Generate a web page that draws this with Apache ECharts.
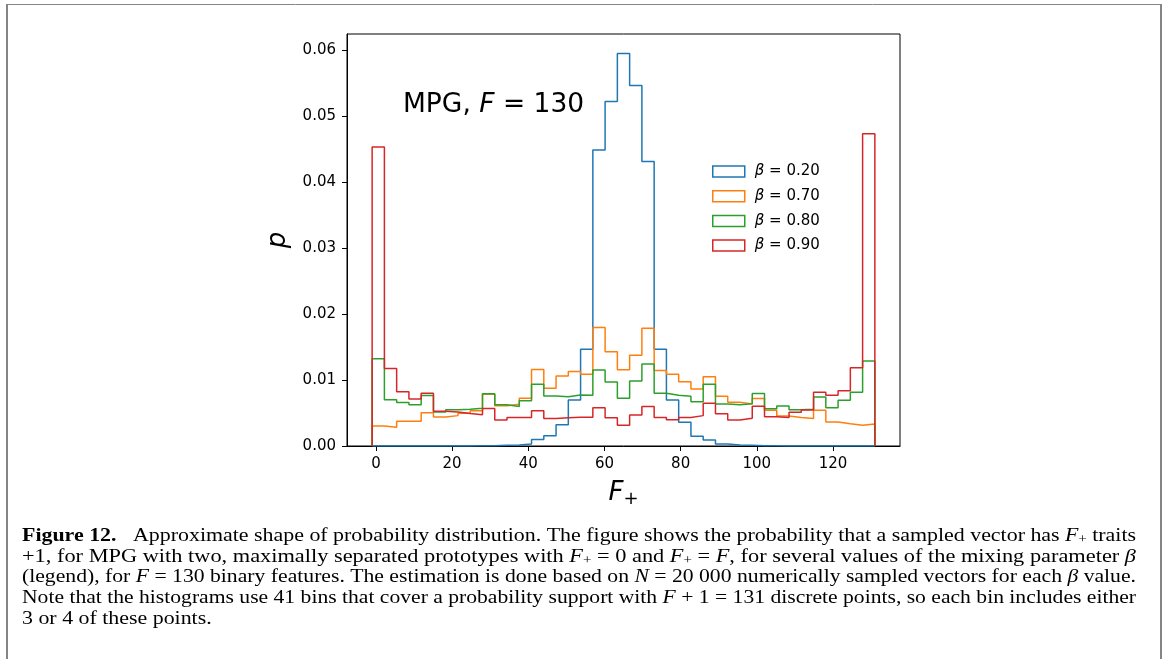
<!DOCTYPE html>
<html>
<head>
<meta charset="utf-8">
<script src="https://cdn.jsdelivr.net/npm/echarts@6/dist/echarts.min.js"></script>
<style>
  html, body { margin: 0; padding: 0; background: #fff; }
  #chart { width: 1166px; height: 659px; }
</style>
</head>
<body>
<div id="chart"></div>
<script>
// ---- data ----
const xTicks = [0, 20, 40, 60, 80, 100, 120];
const yTicks = [0, 0.01, 0.02, 0.03, 0.04, 0.05, 0.06];
const binRange = [-1, 131];
const nBins = 41;
const betaLabels = ['0.20', '0.70', '0.80', '0.90'];

const pBeta020 = [0, 0, 0, 0, 0, 0, 0, 0, 0.00003, 0.00005,
  0.0001, 0.00015, 0.0003, 0.001, 0.00157, 0.00323, 0.00697, 0.01465, 0.04485, 0.05217,
  0.05944, 0.0546, 0.04308, 0.01465, 0.00697, 0.0036, 0.00146, 0.0009, 0.0003, 0.00015,
  0.0001, 0.00005, 0.00002, 0, 0, 0, 0, 0, 0, 0,
  0];
const pBeta070 = [0.00303, 0.00283, 0.00374, 0.00374, 0.00503, 0.00439, 0.0046, 0.00495, 0.00535, 0.00785,
  0.00608, 0.00633, 0.00725, 0.0116, 0.00874, 0.0106, 0.01128, 0.01088, 0.01795, 0.01429,
  0.01155, 0.01374, 0.01783, 0.01144, 0.01088, 0.00975, 0.00864, 0.0105, 0.00755, 0.00664,
  0.00638, 0.0072, 0.0054, 0.00455, 0.00432, 0.00417, 0.0054, 0.00364, 0.00336, 0.00316,
  0.00333];
const pBeta080 = [0.0132, 0.00702, 0.00657, 0.00623, 0.00763, 0.00515, 0.00548, 0.00558, 0.00573, 0.00793,
  0.00626, 0.006, 0.00684, 0.00934, 0.00758, 0.00745, 0.00773, 0.0077, 0.01152, 0.0097,
  0.00725, 0.00985, 0.01242, 0.00798, 0.00768, 0.00753, 0.00672, 0.00934, 0.00636, 0.00626,
  0.00641, 0.00795, 0.00566, 0.00606, 0.0055, 0.00556, 0.00742, 0.00581, 0.00692, 0.00813,
  0.01288];
const pBeta090 = [0.0453, 0.01175, 0.00823, 0.00712, 0.00798, 0.00528, 0.00515, 0.00492, 0.00475, 0.00568,
  0.00392, 0.0043, 0.00432, 0.00535, 0.00417, 0.00427, 0.00437, 0.00436, 0.0058, 0.00427,
  0.00315, 0.0047, 0.00598, 0.0043, 0.00399, 0.0043, 0.0046, 0.00649, 0.0049, 0.00394,
  0.0042, 0.00601, 0.00444, 0.0043, 0.0051, 0.00545, 0.00815, 0.00768, 0.00836, 0.01185,
  0.0473];

// caption text, as [style, text] runs per line
const captionLines = [
  [['b', 'Figure 12.'], ['n', '   Approximate shape of probability distribution. The figure shows the probability that a sampled vector has '], ['i', 'F'], ['s', '+'], ['n', ' traits']],
  [['n', '+1, for MPG with two, maximally separated prototypes with '], ['i', 'F'], ['s', '+'], ['n', ' = 0 and '], ['i', 'F'], ['s', '+'], ['n', ' = '], ['i', 'F'], ['n', ', for several values of the mixing parameter '], ['i', 'β']],
  [['n', '(legend), for '], ['i', 'F'], ['n', ' = 130 binary features. The estimation is done based on '], ['i', 'N'], ['n', ' = 20 000 numerically sampled vectors for each '], ['i', 'β'], ['n', ' value.']],
  [['n', 'Note that the histograms use 41 bins that cover a probability support with '], ['i', 'F'], ['n', ' + 1 = 131 discrete points, so each bin includes either']],
  [['n', '3 or 4 of these points.']]
];

// ---- styles ----
const colors = ['#1f77b4', '#ff7f0e', '#2ca02c', '#d62728'];
const allSeries = [pBeta020, pBeta070, pBeta080, pBeta090];

function stepPoints(vals) {
  const w = (binRange[1] - binRange[0]) / nBins;
  const pts = [[binRange[0], 0]];
  vals.forEach((v, i) => {
    const a = binRange[0] + i * w;
    pts.push([a, v], [a + w, v]);
  });
  pts.push([binRange[1], 0]);
  return pts;
}

const FONT = 'DejaVu Sans';
const SERIF = 'Liberation Serif';
const CAP_SIZE = 19.5;
const CAP_SUB = 13;
const CAP_COLOR = '#231f20';
const names = betaLabels.map(l => 'β = ' + l);

const series = allSeries.map((vals, i) => ({
  type: 'line',
  name: names[i],
  data: stepPoints(vals),
  symbol: 'none',
  showSymbol: false,
  lineStyle: { color: colors[i], width: 1.5 },
  itemStyle: { color: colors[i] },
  emphasis: { disabled: true },
  animation: false,
  z: 2 + i
}));

const capRich = {
  b: { fontFamily: SERIF, fontSize: CAP_SIZE, fontWeight: 'bold', color: CAP_COLOR },
  i: { fontFamily: SERIF, fontSize: CAP_SIZE, fontStyle: 'italic', color: CAP_COLOR },
  s: { fontFamily: SERIF, fontSize: CAP_SUB, color: CAP_COLOR, padding: [7, 0, 0, 0], verticalAlign: 'top' },
  n: { fontFamily: SERIF, fontSize: CAP_SIZE, color: CAP_COLOR }
};
const fontOf = {
  b: 'bold ' + CAP_SIZE + 'px "' + SERIF + '"',
  i: 'italic ' + CAP_SIZE + 'px "' + SERIF + '"',
  s: CAP_SUB + 'px "' + SERIF + '"',
  n: CAP_SIZE + 'px "' + SERIF + '"'
};
const mctx = document.createElement('canvas').getContext('2d');
function lineWidth(runs) {
  let w = 0;
  runs.forEach(([st, t]) => { mctx.font = fontOf[st]; w += mctx.measureText(t).width; });
  return w;
}
const capLeft = 22, capRight = 1136;
const capY = [536, 557, 577, 598, 619];
const scales = captionLines.map((runs, k) => k < captionLines.length - 1 ? (capRight - capLeft) / lineWidth(runs) : null);
const meanScale = scales.filter(s => s).reduce((a, b) => a + b, 0) / (scales.length - 1);

const graphics = [
  { type: 'line', shape: { x1: 7, y1: 4.5, x2: 1161, y2: 4.5 }, style: { stroke: '#858585', lineWidth: 1 } },
  { type: 'line', shape: { x1: 7, y1: 4, x2: 7, y2: 659 }, style: { stroke: '#858585', lineWidth: 2 } },
  { type: 'line', shape: { x1: 1161, y1: 4, x2: 1161, y2: 659 }, style: { stroke: '#858585', lineWidth: 2 } },
  {
    type: 'text', x: 403, y: 105,
    style: {
      text: '{n|MPG, }{i|F}{n| = 130}',
      verticalAlign: 'middle',
      rich: {
        n: { fontFamily: FONT, fontSize: 26.5, color: '#000' },
        i: { fontFamily: FONT, fontSize: 26.5, fontStyle: 'italic', color: '#000' }
      }
    }
  }
];
captionLines.forEach((runs, k) => {
  graphics.push({
    type: 'text', x: capLeft, y: capY[k],
    scaleX: scales[k] || meanScale, scaleY: 1,
    style: {
      text: runs.map(([st, t]) => '{' + st + '|' + t + '}').join(''),
      verticalAlign: 'middle', rich: capRich
    }
  });
});

const chart = echarts.init(document.getElementById('chart'), null, { renderer: 'canvas' });
chart.setOption({
  backgroundColor: '#fff',
  animation: false,
  grid: {
    left: 347, top: 34, width: 553, height: 412,
    show: true, borderColor: '#000', borderWidth: 1, backgroundColor: 'transparent'
  },
  legend: {
    orient: 'vertical',
    left: 712, top: 164, padding: 0,
    itemWidth: 32, itemHeight: 11, itemGap: 9.7,
    selectedMode: false,
    data: names.map((n, i) => ({
      name: n, icon: 'rect',
      itemStyle: { color: 'rgba(255,255,255,0)', borderColor: colors[i], borderWidth: 1.5 }
    })),
    formatter: n => n.replace('β', '{i|β}'),
    textStyle: {
      fontFamily: FONT, fontSize: 15, color: '#000', padding: [0, 0, 0, 5],
      rich: { i: { fontFamily: FONT, fontSize: 15, fontStyle: 'italic', color: '#000' } }
    }
  },
  xAxis: {
    type: 'value', min: -7.6, max: 137.6,
    splitLine: { show: false },
    axisLine: { show: true, onZero: false, lineStyle: { color: '#000', width: 1 } },
    axisTick: { show: true, customValues: xTicks, length: 5, lineStyle: { color: '#000' } },
    axisLabel: { customValues: xTicks, color: '#000', fontFamily: FONT, fontSize: 15, margin: 11 },
    name: '{i|F}{s|+}',
    nameLocation: 'middle', nameGap: 34,
    nameTextStyle: {
      rich: {
        i: { fontFamily: FONT, fontSize: 26, fontStyle: 'italic', color: '#000', verticalAlign: 'top' },
        s: { fontFamily: FONT, fontSize: 18, color: '#000', padding: [10, 0, 0, 0], verticalAlign: 'top' }
      }
    }
  },
  yAxis: {
    type: 'value', min: 0, max: 0.0624,
    splitLine: { show: false },
    axisLine: { show: true, onZero: false, lineStyle: { color: '#000', width: 1 } },
    axisTick: { show: true, customValues: yTicks, length: 5, lineStyle: { color: '#000' } },
    axisLabel: { customValues: yTicks, color: '#000', fontFamily: FONT, fontSize: 15, margin: 11,
      formatter: v => v.toFixed(2) },
    name: 'p', nameLocation: 'middle', nameRotate: 90, nameGap: 56,
    nameTextStyle: { fontFamily: FONT, fontSize: 26, fontStyle: 'italic', color: '#000' }
  },
  series: series,
  graphic: graphics
});
</script>
</body>
</html>
